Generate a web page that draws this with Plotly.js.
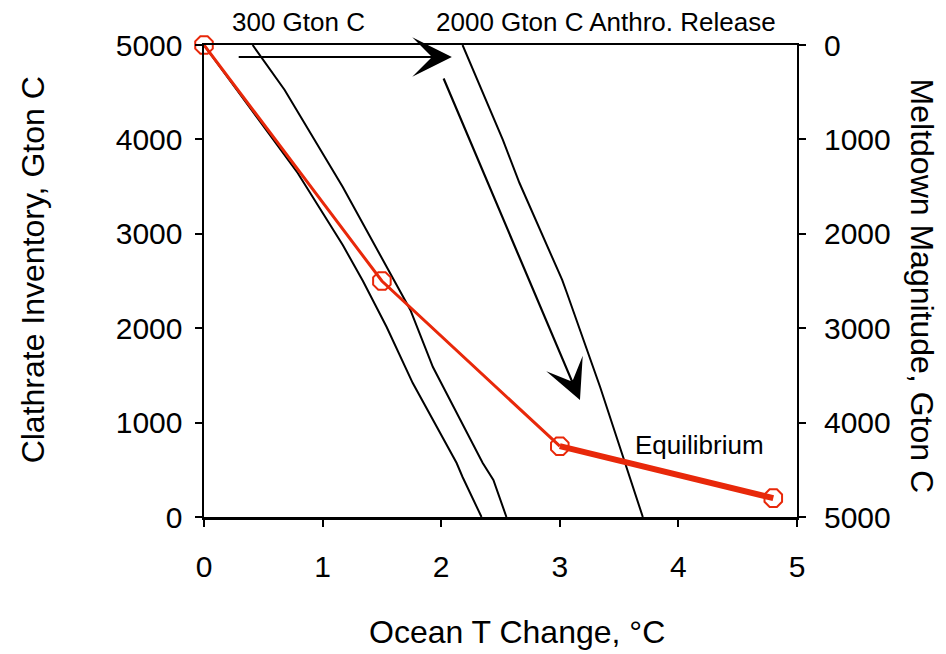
<!DOCTYPE html>
<html>
<head>
<meta charset="utf-8">
<script src="https://cdn.plot.ly/plotly-3.0.1.min.js"></script>
<style>html,body{margin:0;padding:0;background:#fff;}#chart{width:946px;height:654px;}</style>
</head>
<body>
<div id="chart"></div>
<script>
// Phase-boundary curves (Ocean T change, clathrate inventory)
const line1X = [0, 0.32, 0.79, 1.17, 1.34, 1.54, 1.76, 2.13, 2.18, 2.34];
const line1Y = [5000, 4449, 3644, 2881, 2500, 2013, 1419, 572, 424, 0];
const line2X = [0.41, 0.68, 1.17, 1.59, 1.74, 1.93, 2.35, 2.44, 2.55];
const line2Y = [5000, 4523, 3496, 2542, 2193, 1589, 572, 392, 0];
const line3X = [2.18, 2.52, 2.66, 3.02, 3.06, 3.28, 3.34, 3.70];
const line3Y = [5000, 3994, 3538, 2511, 2373, 1589, 1377, 0];
// Red inventory trajectory
const redX = [0, 1.5, 3];
const redY = [5000, 2500, 750];
const eqX = [3, 4.8];
const eqY = [750, 200];
// Arrows (tail -> tip)
const arrowTailX = [0.28, 2.015];
const arrowTailY = [4873, 4661];
const arrowTipX = [2.09, 3.17];
const arrowTipY = [4873, 1239];
// Ticks
const xTicks = [0, 1, 2, 3, 4, 5];
const yTicks = [0, 1000, 2000, 3000, 4000, 5000];
// Labels
const topLabels = ["300 Gton C", "2000 Gton C Anthro. Release"];
const topLabelX = [0.80, 3.39];
const eqLabel = "Equilibrium";
const eqLabelX = 4.18;
const eqLabelY = 763;
const xTitle = "Ocean T Change, °C";
const yTitle = "Clathrate Inventory, Gton C";
const y2Title = "Meltdown Magnitude, Gton C";

const FONT = "Liberation Sans, Arial, Helvetica, sans-serif";
const RED = "rgb(232,40,10)";

const blackLine = (x, y) => ({x, y, type: "scatter", mode: "lines", line: {color: "#000", width: 2}, hoverinfo: "skip", cliponaxis: false});

const traces = [
  blackLine(line1X, line1Y),
  blackLine(line2X, line2Y),
  blackLine(line3X, line3Y),
  {x: redX, y: redY, type: "scatter", mode: "lines", line: {color: RED, width: 3}, cliponaxis: false},
  {x: eqX, y: eqY, type: "scatter", mode: "lines", line: {color: RED, width: 6}, cliponaxis: false},
  {x: redX.concat(eqX.slice(1)), y: redY.concat(eqY.slice(1)), type: "scatter", mode: "markers",
   marker: {symbol: "octagon-open", size: 19, color: RED, line: {color: RED, width: 2}}, cliponaxis: false},
  {x: [0], y: [0], yaxis: "y2", type: "scatter", mode: "markers", marker: {opacity: 0}, hoverinfo: "skip"}
];

const annotations = [];
for (let i = 0; i < arrowTipX.length; i++) {
  annotations.push({x: arrowTipX[i], y: arrowTipY[i], ax: arrowTailX[i], ay: arrowTailY[i],
    xref: "x", yref: "y", axref: "x", ayref: "y", text: "", showarrow: true,
    arrowhead: 3, arrowsize: 3, arrowwidth: 2.2, arrowcolor: "#000", standoff: 0});
}
for (let i = 0; i < topLabels.length; i++) {
  annotations.push({x: topLabelX[i], y: 1.049, xref: "x", yref: "paper", text: topLabels[i],
    showarrow: false, font: {family: FONT, size: 26, color: "#000"}, xanchor: "center", yanchor: "middle"});
}
annotations.push({x: eqLabelX, y: eqLabelY, xref: "x", yref: "y", text: eqLabel,
  showarrow: false, font: {family: FONT, size: 26, color: "#000"}, xanchor: "center", yanchor: "middle"});
annotations.push({x: 1.211, y: 0.49, xref: "paper", yref: "paper", text: y2Title,
  textangle: 90, showarrow: false, font: {family: FONT, size: 32, color: "#000"}, xanchor: "center", yanchor: "middle"});
annotations.push({x: -0.288, y: 0.523, xref: "paper", yref: "paper", text: yTitle,
  textangle: -90, showarrow: false, font: {family: FONT, size: 32, color: "#000"}, xanchor: "center", yanchor: "middle"});
annotations.push({x: 0.528, y: -0.244, xref: "paper", yref: "paper", text: xTitle,
  showarrow: false, font: {family: FONT, size: 32, color: "#000"}, xanchor: "center", yanchor: "middle"});

const layout = {
  width: 946, height: 654,
  margin: {l: 204, r: 149, t: 45, b: 137},
  paper_bgcolor: "#fff", plot_bgcolor: "#fff",
  showlegend: false,
  font: {family: FONT, size: 30, color: "#000"},
  xaxis: {range: [0, 5], tickvals: xTicks, ticks: "outside", ticklen: 7, tickwidth: 2, tickcolor: "#000",
    showline: true, linewidth: 2.5, linecolor: "#000", mirror: true, showgrid: false, zeroline: false,
    tickfont: {family: FONT, size: 30}, ticklabelstandoff: 14},
  yaxis: {range: [0, 5000], tickvals: yTicks, ticks: "outside", ticklen: 7, tickwidth: 2, tickcolor: "#000",
    showline: true, linewidth: 2.5, linecolor: "#000", showgrid: false, zeroline: false,
    tickfont: {family: FONT, size: 30}, ticklabelstandoff: 6},
  yaxis2: {range: [5000, 0], overlaying: "y", side: "right", tickvals: yTicks, ticks: "outside", ticklen: 7,
    tickwidth: 2, tickcolor: "#000", showline: true, linewidth: 2, linecolor: "#000", showgrid: false,
    zeroline: false, tickfont: {family: FONT, size: 30}, ticklabelstandoff: 12},
  annotations
};

Plotly.newPlot("chart", traces, layout, {staticPlot: true});
</script>
</body>
</html>
